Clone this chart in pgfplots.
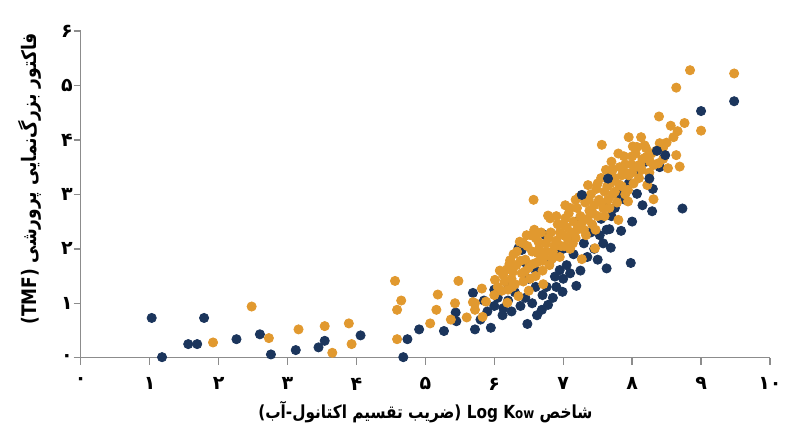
\documentclass[border=0pt]{standalone}
\usepackage{pgfplots}
\pgfplotsset{compat=1.18}
\usepackage{fontspec}
\TeXXeTstate=1
\newfontfamily\arabicfont[Script=Arabic]{DejaVu Sans}
\newfontfamily\labelfont[Script=Arabic, FakeStretch=0.85]{DejaVu Sans}
\definecolor{navy}{HTML}{1B355C}
\definecolor{amber}{HTML}{E1992F}

\pgfplotstableread{
x y
1.03 0.73
1.18 0.01
1.56 0.25
1.69 0.25
1.79 0.73
2.26 0.34
2.60 0.43
2.76 0.06
3.12 0.14
3.45 0.19
3.54 0.31
4.06 0.41
4.68 0.01
4.74 0.34
4.91 0.52
5.27 0.49
5.44 0.83
5.45 0.67
5.69 1.19
5.72 0.52
5.80 0.70
5.85 1.05
5.90 0.85
5.95 0.55
6.00 0.95
6.00 1.25
6.05 1.10
6.12 0.78
6.13 0.91
6.20 1.05
6.20 1.35
6.25 0.85
6.30 1.20
6.35 2.01
6.38 0.95
6.40 1.98
6.45 1.10
6.45 1.75
6.48 0.62
6.50 1.45
6.55 1.00
6.60 1.30
6.60 1.60
6.62 0.78
6.69 0.88
6.70 1.15
6.74 2.25
6.76 1.30
6.78 0.97
6.80 1.75
6.85 1.10
6.88 1.49
6.90 1.30
6.90 1.90
6.95 1.61
6.99 1.21
7.00 1.45
7.00 2.00
7.05 1.70
7.10 1.55
7.10 2.20
7.15 1.90
7.19 1.32
7.20 2.50
7.25 1.60
7.30 2.10
7.35 1.85
7.40 2.30
7.40 2.70
7.45 2.00
7.50 1.80
7.53 2.25
7.55 2.55
7.58 2.10
7.60 2.80
7.63 1.64
7.63 2.35
7.67 2.36
7.69 2.02
7.70 2.60
7.75 2.75
7.80 3.00
7.84 2.33
7.90 2.90
7.95 3.20
7.98 1.74
8.00 2.50
8.10 3.45
8.15 2.80
8.20 3.60
8.29 2.69
8.30 3.10
8.40 3.50
8.73 2.74
9.00 4.53
9.48 4.71
}\navydata

\pgfplotstableread{
x y
7.27 2.99
7.65 3.29
8.07 3.01
8.25 3.29
8.36 3.80
8.48 3.72
}\navytop

\pgfplotstableread{
x y
1.92 0.28
2.48 0.94
2.73 0.36
3.16 0.52
3.54 0.58
3.65 0.09
3.89 0.63
3.93 0.25
4.56 1.41
4.59 0.34
4.59 0.88
4.65 1.05
5.07 0.63
5.16 0.88
5.18 1.16
5.37 0.70
5.43 1.00
5.48 1.41
5.60 0.74
5.69 1.02
5.72 0.88
5.72 1.00
5.82 1.27
5.83 0.75
5.88 1.03
6.00 1.15
6.01 1.43
6.05 1.30
6.08 1.60
6.11 1.23
6.13 1.52
6.15 1.40
6.18 1.62
6.19 1.01
6.20 1.25
6.22 1.72
6.23 1.79
6.25 1.45
6.26 1.30
6.27 1.58
6.28 1.90
6.30 1.35
6.32 1.70
6.33 1.95
6.35 1.13
6.37 2.13
6.38 1.78
6.40 1.55
6.42 1.40
6.42 2.10
6.44 1.58
6.45 1.80
6.47 2.25
6.48 2.05
6.50 1.23
6.50 1.65
6.52 1.45
6.53 2.25
6.55 1.95
6.56 1.72
6.57 2.90
6.58 2.35
6.60 1.50
6.60 2.20
6.62 1.75
6.63 1.92
6.64 2.13
6.65 2.00
6.68 2.30
6.70 1.60
6.70 1.78
6.71 1.35
6.72 1.85
6.75 2.10
6.76 1.95
6.78 2.61
6.79 2.20
6.80 1.70
6.81 2.56
6.82 2.30
6.84 1.82
6.85 1.95
6.87 2.05
6.90 2.15
6.90 2.60
6.92 2.45
6.95 1.85
6.95 2.30
6.97 2.05
7.00 2.25
7.00 2.45
7.02 2.05
7.03 2.56
7.03 2.80
7.05 2.40
7.06 2.20
7.08 2.65
7.10 2.00
7.10 2.75
7.12 2.30
7.14 2.10
7.15 2.50
7.18 2.20
7.18 2.90
7.20 2.35
7.20 2.75
7.22 2.40
7.23 2.95
7.25 2.60
7.27 1.81
7.28 2.50
7.30 2.35
7.32 2.85
7.33 2.25
7.35 2.55
7.36 3.17
7.37 2.90
7.38 2.70
7.40 3.00
7.42 2.45
7.43 2.65
7.45 2.80
7.46 2.01
7.47 2.35
7.48 3.10
7.50 2.60
7.50 3.20
7.52 2.90
7.55 2.85
7.55 3.30
7.56 3.91
7.58 2.75
7.60 2.60
7.60 3.05
7.62 3.45
7.64 3.15
7.65 2.90
7.67 2.75
7.68 3.20
7.70 3.35
7.70 3.60
7.72 3.00
7.72 3.46
7.75 3.05
7.75 3.30
7.78 2.85
7.80 2.53
7.80 3.75
7.81 3.18
7.82 3.50
7.85 3.15
7.85 3.35
7.88 3.70
7.90 3.00
7.90 3.40
7.90 3.55
7.94 2.87
7.94 3.08
7.95 3.35
7.95 4.05
7.99 3.55
8.00 3.40
8.00 3.70
8.01 3.88
8.02 3.20
8.05 3.75
8.07 3.52
8.07 3.87
8.10 3.30
8.12 3.55
8.13 4.05
8.14 3.45
8.15 3.65
8.18 3.90
8.20 3.85
8.21 3.69
8.22 3.17
8.25 3.40
8.26 3.60
8.28 3.75
8.31 2.91
8.31 3.54
8.35 3.80
8.38 3.57
8.39 4.43
8.40 3.94
8.45 3.65
8.45 3.86
8.50 3.95
8.52 3.48
8.56 4.26
8.60 4.05
8.64 3.72
8.64 4.96
8.66 4.16
8.69 3.51
8.76 4.31
8.84 5.28
9.00 4.17
9.48 5.22
}\amberdata

\begin{document}
\begin{tikzpicture}
\path[use as bounding box] (0,0) rectangle (400pt,223.5pt);
\begin{axis}[
  scale only axis,
  width=344.65pt, height=163.35pt,
  at={(40.35pt,44.65pt)}, anchor=south west,
  xmin=0, xmax=10, ymin=0, ymax=6,
  axis x line=bottom, axis y line=left,
  axis line style={-, draw=gray!90, line width=0.7pt},
  tick style={draw=gray!90, line width=0.7pt},
  tick align=outside, major tick length=3.5pt,
  xtick={0,1,2,3,4,5,6,7,8,9,10},
  xticklabels={۰,۱,۲,۳,۴,۵,۶,۷,۸,۹,۱۰},
  ytick={0,1,2,3,4,5,6},
  yticklabels={۰,۱,۲,۳,۴,۵,۶},
  ticklabel style={font=\arabicfont\bfseries\fontsize{9.5}{10}\selectfont},
  xticklabel style={yshift=-3pt},
  yticklabel style={xshift=3pt},
  clip=false,
  xlabel={\labelfont\bfseries\fontsize{9}{11}\selectfont\beginR شاخص \beginL Log K{\fontsize{7}{8}\selectfont ow}\endL{} (ضریب تقسیم اکتانول-آب)\endR},
  xlabel style={at={(axis description cs:0.5,-0.166)}, anchor=center},
  ylabel={\labelfont\bfseries\fontsize{10}{11}\selectfont\beginR فاکتور بزرگ‌نمایی پرورشی \beginL(TMF)\endL\endR},
  ylabel style={at={(axis description cs:-0.0735,0.547)}, anchor=center},
  every axis plot/.append style={only marks, mark=*, mark size=2.3pt},
]
\addplot[navy, mark options={draw=navy, fill=navy}] table {\navydata};
\addplot[amber, mark options={draw=amber, fill=amber}] table {\amberdata};
\addplot[navy, mark options={draw=navy, fill=navy}] table {\navytop};
\end{axis}
\end{tikzpicture}
\end{document}
